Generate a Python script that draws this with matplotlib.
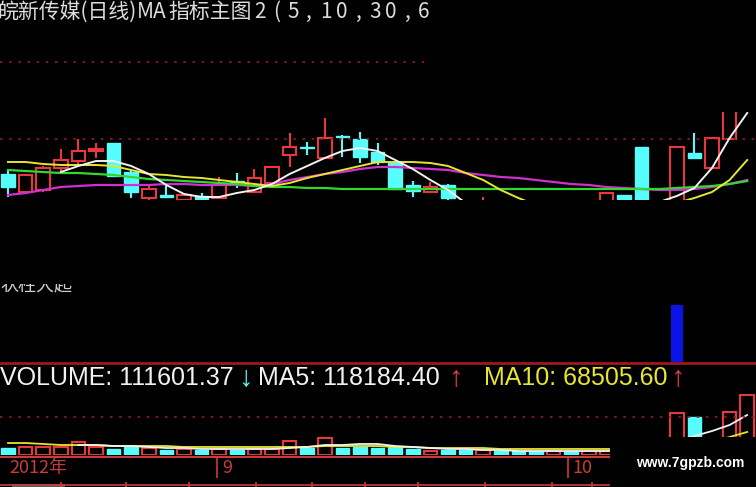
import matplotlib
matplotlib.use("Agg")
import matplotlib.pyplot as plt
import numpy as np
from matplotlib.patches import Rectangle
from matplotlib.lines import Line2D

W, H = 756, 487
nan = np.nan

# K线 (日线) 价格
opens = [9.26, 9.08, 9.10, 9.32, 9.39, 9.49, 9.57, 9.28, 9.02, 9.05, 9.00, 9.04, 9.02, 9.19, 9.08,
         9.17, 9.45, 9.53, 9.42, 9.64, 9.61, 9.48, 9.37, 9.15, 9.08, 9.15, 8.96, 8.90, 8.94, 8.88,
         8.84, 8.81, 8.83, 8.81, 8.95, 9.05, 9.53, 8.90, 8.85, 9.47, 9.32, 9.61, 9.92]
highs = [9.31, 9.25, 9.34, 9.51, 9.61, 9.57, 9.57, 9.30, 9.16, 9.16, 9.07, 9.07, 9.23, 9.27, 9.31,
         9.33, 9.67, 9.58, 9.82, 9.65, 9.68, 9.57, 9.37, 9.19, 9.18, 9.16, 8.98, 9.03, 8.96, 8.92,
         8.87, 8.86, 8.87, 8.90, 9.07, 9.05, 9.53, 8.95, 9.53, 9.67, 9.62, 10.00, 10.15]
lows = [9.03, 9.07, 9.08, 9.28, 9.35, 9.42, 9.24, 9.02, 8.99, 9.02, 8.98, 8.99, 9.01, 9.12, 9.08,
        9.15, 9.33, 9.45, 9.42, 9.43, 9.37, 9.35, 9.11, 9.03, 9.07, 8.99, 8.88, 8.88, 8.85, 8.80,
        8.78, 8.76, 8.78, 8.79, 8.93, 8.99, 8.95, 8.85, 8.84, 9.42, 9.32, 9.61, 9.91]
closes = [9.13, 9.25, 9.32, 9.40, 9.49, 9.51, 9.24, 9.08, 9.11, 9.03, 9.05, 9.01, 9.15, 9.18, 9.22,
          9.33, 9.53, 9.52, 9.62, 9.63, 9.43, 9.38, 9.11, 9.09, 9.13, 9.02, 8.91, 8.96, 8.88, 8.84,
          8.81, 8.83, 8.81, 8.88, 9.07, 9.01, 8.98, 8.93, 9.53, 9.42, 9.62, 9.95, 10.10]

ma5 = [nan, nan, nan, 9.28, 9.34, 9.39, 9.39, 9.34, 9.26, 9.15, 9.06, 9.03, 9.03, 9.07, 9.10,
       9.16, 9.26, 9.34, 9.42, 9.49, 9.52, 9.49, 9.40, 9.31, 9.20, 9.10, 8.97, 8.90, 8.86, 8.84,
       8.82, 8.82, 8.84, 8.85, 8.88, 8.90, 8.94, 8.98, 9.04, 9.12, 9.32, 9.62, 9.87]
ma10 = [9.38, 9.38, 9.36, 9.35, 9.35, 9.35, 9.34, 9.30, 9.26, 9.25, 9.23, 9.22, 9.20, 9.18, 9.16,
        9.14, 9.17, 9.22, 9.26, 9.30, 9.34, 9.38, 9.38, 9.38, 9.37, 9.34, 9.27, 9.20, 9.10, 9.02,
        8.95, 8.91, 8.88, 8.87, 8.87, 8.88, 8.90, 8.93, 8.97, 9.02, 9.08, 9.20, 9.40]
ma30 = [9.30, 9.29, 9.28, 9.27, 9.27, 9.26, 9.25, 9.23, 9.21, 9.20, 9.19, 9.18, 9.17, 9.16, 9.14,
        9.13, 9.13, 9.12, 9.12, 9.11, 9.11, 9.11, 9.11, 9.11, 9.11, 9.11, 9.11, 9.11, 9.11, 9.11,
        9.11, 9.11, 9.11, 9.11, 9.11, 9.11, 9.11, 9.11, 9.12, 9.13, 9.14, 9.16, 9.19]
ma60 = [9.05, 9.07, 9.10, 9.13, 9.14, 9.15, 9.15, 9.15, 9.15, 9.16, 9.16, 9.15, 9.15, 9.15, 9.14,
        9.16, 9.20, 9.23, 9.26, 9.28, 9.31, 9.33, 9.33, 9.32, 9.31, 9.30, 9.27, 9.25, 9.23, 9.22,
        9.20, 9.18, 9.16, 9.15, 9.13, 9.12, 9.11, 9.10, 9.10, 9.11, 9.13, 9.16, 9.20]

# 成交量
volume = [13000, 14900, 14900, 14900, 24200, 14900, 11200, 14900, 13000, 9300, 11200, 9300, 11200,
          9300, 11200, 11200, 26000, 13000, 31600, 13000, 14900, 13000, 14900, 11200, 7400, 9300,
          9300, 9300, 7400, 7400, 7400, 7400, 7400, 7400, 7400, 7400, 22300, 9300, 78100, 70700,
          26000, 80000, 111601]
vol_ma5 = [nan, nan, nan, nan, 18600, 18600, 16700, 16700, 14900, 13000, 13000, 11200, 11200,
           11200, 11200, 11200, 13000, 14900, 18600, 18600, 20500, 20500, 16700, 14900, 13000,
           11200, 11200, 9300, 9300, 7400, 7400, 7400, 7400, 7400, 7400, 7400, 11200, 11200,
           26000, 35300, 44600, 55800, 74400]
vol_ma10 = [22300, 22300, 20500, 18600, 18600, 18600, 16700, 16700, 16700, 16700, 14900, 14900,
            14900, 14900, 14900, 14900, 14900, 14900, 16700, 16700, 16700, 16700, 14900, 14900,
            13000, 13000, 13000, 13000, 11200, 11200, 11200, 11200, 11200, 11200, 11200, 11200,
            11200, 11200, 16700, 22300, 24200, 33500, 42800]
vol_last, vol_ma5_last, vol_ma10_last = 111601.37, 118184.40, 68505.60

# 状柱大起 指标
signal = [0, 0, 0, 0, 0, 0, 0, 0, 0, 0, 0, 0, 0, 0, 0, 0, 0, 0, 0, 0, 0, 0, 0, 0, 0, 0, 0, 0,
          0, 0, 0, 0, 0, 0, 0, 0, 0, 0, 1, 0, 0, 0, 0]

# 日期刻度
date_pos = [-0.2, 11.9, 31.8]
date_labels = ["2012年", "9", "10"]
minor_pos = [3.0, 6.7, 10.3, 14.1, 17.3, 20.3, 23.3, 27.1, 30.9, 33.2]

RED = "#e8383d"
CYAN = "#57fcfc"
WHITE = "#f2f2f2"
YELLOW = "#e6e630"
GREEN = "#30d830"
MAGENTA = "#d030d0"
DARKRED = "#9a1c1c"
AXRED = "#c83c3c"

plt.rcParams["font.family"] = ["Noto Sans CJK SC", "DejaVu Sans"]

fig = plt.figure(figsize=(W / 100, H / 100), dpi=100, facecolor="black")


def px_axes(x0, y0, x1, y1):
    ax = fig.add_axes([x0 / W, 1 - y1 / H, (x1 - x0) / W, (y1 - y0) / H])
    ax.set_axis_off()
    return ax


def fig_line(x0, y0, x1, y1, **kw):
    fig.add_artist(Line2D([x0 / W, x1 / W], [1 - y0 / H, 1 - y1 / H], **kw))


n = len(opens)
xs = np.arange(n)
xlim = (-8 / 17.6, (W - 8) / 17.6)
bw = 0.78

# 标题 (右侧被截断)
ax_t = px_axes(0, 0, 430, 26)
ax_t.set_xlim(0, 430)
ax_t.set_ylim(26, 0)
title_parts = [("皖新传媒(日线)", -3), ("MA", 137), ("指标主图", 168)]
for s, x in title_parts:
    ax_t.text(x, 12, s, color="#dcdcdc", fontsize=15, va="center", ha="left", clip_on=True)
for k, ch in enumerate("2(5,10,30,60)"):
    ax_t.text(260 + 16.4 * k, 12, ch, color="#dcdcdc", fontsize=15, va="center",
              ha="center", clip_on=True)

# 网格虚线
fig_line(0, 62, 430, 62, color=DARKRED, lw=1.2, ls=(0, (1.5, 4)))
fig_line(0, 139, W, 139, color=DARKRED, lw=1.2, ls=(0, (1.5, 4)))
fig_line(0, 417, W, 417, color=DARKRED, lw=1.2, ls=(0, (1.5, 4)))

# 主图K线
ax = px_axes(0, 112, W, 200)
ax.set_xlim(*xlim)
ax.set_ylim(9.0, 9.88)
for i in xs:
    o, h, l, c = opens[i], highs[i], lows[i], closes[i]
    if c > o:
        ax.vlines(i, c, h, color=RED, lw=1.5, zorder=2)
        ax.vlines(i, l, o, color=RED, lw=1.5, zorder=2)
        ax.add_patch(Rectangle((i - bw / 2, o), bw, c - o, facecolor="black",
                               edgecolor=RED, lw=1.5, zorder=2))
    else:
        ax.vlines(i, l, h, color=CYAN, lw=1.5, zorder=2)
        ax.add_patch(Rectangle((i - bw / 2, c), bw, max(o - c, 0.012), facecolor=CYAN,
                               edgecolor=CYAN, lw=1, zorder=2))
ax.plot(xs, ma60, color=MAGENTA, lw=1.6, zorder=3)
ax.plot(xs, ma30, color=GREEN, lw=1.6, zorder=3)
ax.plot(xs, ma10, color=YELLOW, lw=1.4, zorder=3)
ax.plot(xs, ma5, color=WHITE, lw=1.4, zorder=3)

# 状柱大起
ax_lbl = px_axes(0, 284, 140, 302)
ax_lbl.text(0, 0.85, "状柱大起", color="#d0d0d0", fontsize=13, va="center", ha="left",
            transform=ax_lbl.transAxes, clip_on=True)
ax_s = px_axes(0, 290, W, 362)
ax_s.set_xlim(*xlim)
ax_s.set_ylim(0, 72 / 57)
ax_s.bar(xs, signal, width=0.7, color="#0a14e6")

fig_line(0, 363, W, 363, color="#a01818", lw=2)

# 成交量标题
vt = [("VOLUME: %.2f" % vol_last, 0, WHITE, 18), ("↓", 238, CYAN, 21),
      ("MA5: %.2f" % vol_ma5_last, 258, WHITE, 18), ("↑", 448, RED, 21),
      ("MA10: %.2f" % vol_ma10_last, 484, YELLOW, 18), ("↑", 670, RED, 21)]
for s, x, col, fs in vt:
    fig.text(x / W, 1 - 378 / H, s, color=col, fontsize=fs, va="center", ha="left",
             family=["Liberation Sans", "DejaVu Sans"])

# 成交量
ax_v = px_axes(0, 375, W, 455)
ax_v.set_xlim(*xlim)
ax_v.set_ylim(0, 80 * 1860)
for i in xs:
    if closes[i] > opens[i]:
        ax_v.add_patch(Rectangle((i - bw / 2, 0), bw, volume[i], facecolor="black",
                                 edgecolor=RED, lw=1.5, zorder=2))
    else:
        ax_v.add_patch(Rectangle((i - bw / 2, 0), bw, volume[i], facecolor=CYAN,
                                 edgecolor=CYAN, lw=1, zorder=2))
ax_v.plot(xs, vol_ma10, color=YELLOW, lw=1.3, zorder=3)
ax_v.plot(xs, vol_ma5, color=WHITE, lw=1.3, zorder=3)

# 日期轴
ax_d = px_axes(0, 455, 610, 487)
ax_d.set_xlim(xlim[0], (610 - 8) / 17.6)
ax_d.set_ylim(32, 0)
ax_d.axhline(2, color=AXRED, lw=1.5)
ax_d.axhline(29.5, color=AXRED, lw=1.2)
for p, lab in zip(date_pos, date_labels):
    if p > 0:
        ax_d.vlines(p, 2, 23, color=AXRED, lw=1.2)
    ax_d.text(p + 0.25, 13, lab, color=AXRED, fontsize=13, va="center", ha="left")
ax_d.vlines(minor_pos, 27, 32, color=AXRED, lw=1.2)
ax_d.add_patch(Rectangle((xlim[0] + 0.7, 28.5), 3.0, 3.5, color="#5a5a5a", lw=0))

# 右下角水印
fig.add_artist(Rectangle((610 / W, 0), (W - 610) / W, (H - 437) / H,
                         transform=fig.transFigure, facecolor="black", edgecolor="none",
                         zorder=10))
fig.text(690 / W, 1 - 463 / H, "www.7gpzb.com", color="white", fontsize=10, weight="bold",
         ha="center", va="center", family=["Liberation Sans"], zorder=11)

fig.savefig("out.png", dpi=100, facecolor="black")
